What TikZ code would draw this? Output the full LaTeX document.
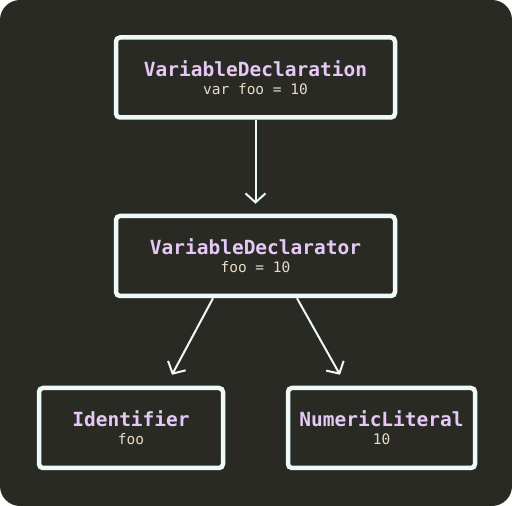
\documentclass[tikz,border=0pt]{standalone}
\usepackage{fontspec}
\setmonofont{DejaVu Sans Mono}
\usetikzlibrary{arrows.meta,calc}
\definecolor{bgc}{HTML}{2A2A24}
\definecolor{edgec}{HTML}{EEFAFA}
\definecolor{titlec}{HTML}{E6C8F6}
\definecolor{subc}{HTML}{E8DCC6}
\begin{document}
\begin{tikzpicture}[x=1pt,y=1pt,
  astnode/.style={draw=edgec, line width=4.5pt, rounded corners=4pt, fill=bgc,
    minimum height=80pt, align=center, inner sep=0pt,
    font=\ttfamily\fontsize{19.5}{18}\selectfont},
  arr/.style={draw=edgec, line width=2pt, -{Straight Barb[length=9pt,width=20pt,line width=2pt]}}]
\fill[white] (0,0) rectangle (512,506);
\fill[bgc, rounded corners=20pt] (0,0) rectangle (512,506);
\useasboundingbox (0,0) rectangle (512,506);
\newcommand{\nodetext}[2]{{\bfseries\color{titlec}#1}\\{\fontsize{14.5}{18}\selectfont\color{subc}#2}}
\node[astnode, minimum width=279pt] (decl) at (255.5,428.5) {\nodetext{VariableDeclaration}{var foo = 10}};
\node[astnode, minimum width=279pt] (dtor) at (255.5,250) {\nodetext{VariableDeclarator}{foo = 10}};
\node[astnode, minimum width=184pt] (ident) at (131,78) {\nodetext{Identifier}{foo}};
\node[astnode, minimum width=187pt] (num) at (381.5,78) {\nodetext{NumericLiteral}{10}};
\coordinate (a1) at ($(dtor.north)+(0,10)$);
\coordinate (s2) at ($(dtor.south)+(-42.5,0)$);
\coordinate (e2) at ($(ident.north)+(41,11)$);
\coordinate (s3) at ($(dtor.south)+(41.5,0)$);
\coordinate (e3) at ($(num.north)+(-41.5,11)$);
\draw[arr] (decl.south) -- (a1);
\draw[arr] (s2) -- (e2);
\draw[arr] (s3) -- (e3);
\end{tikzpicture}
\end{document}
